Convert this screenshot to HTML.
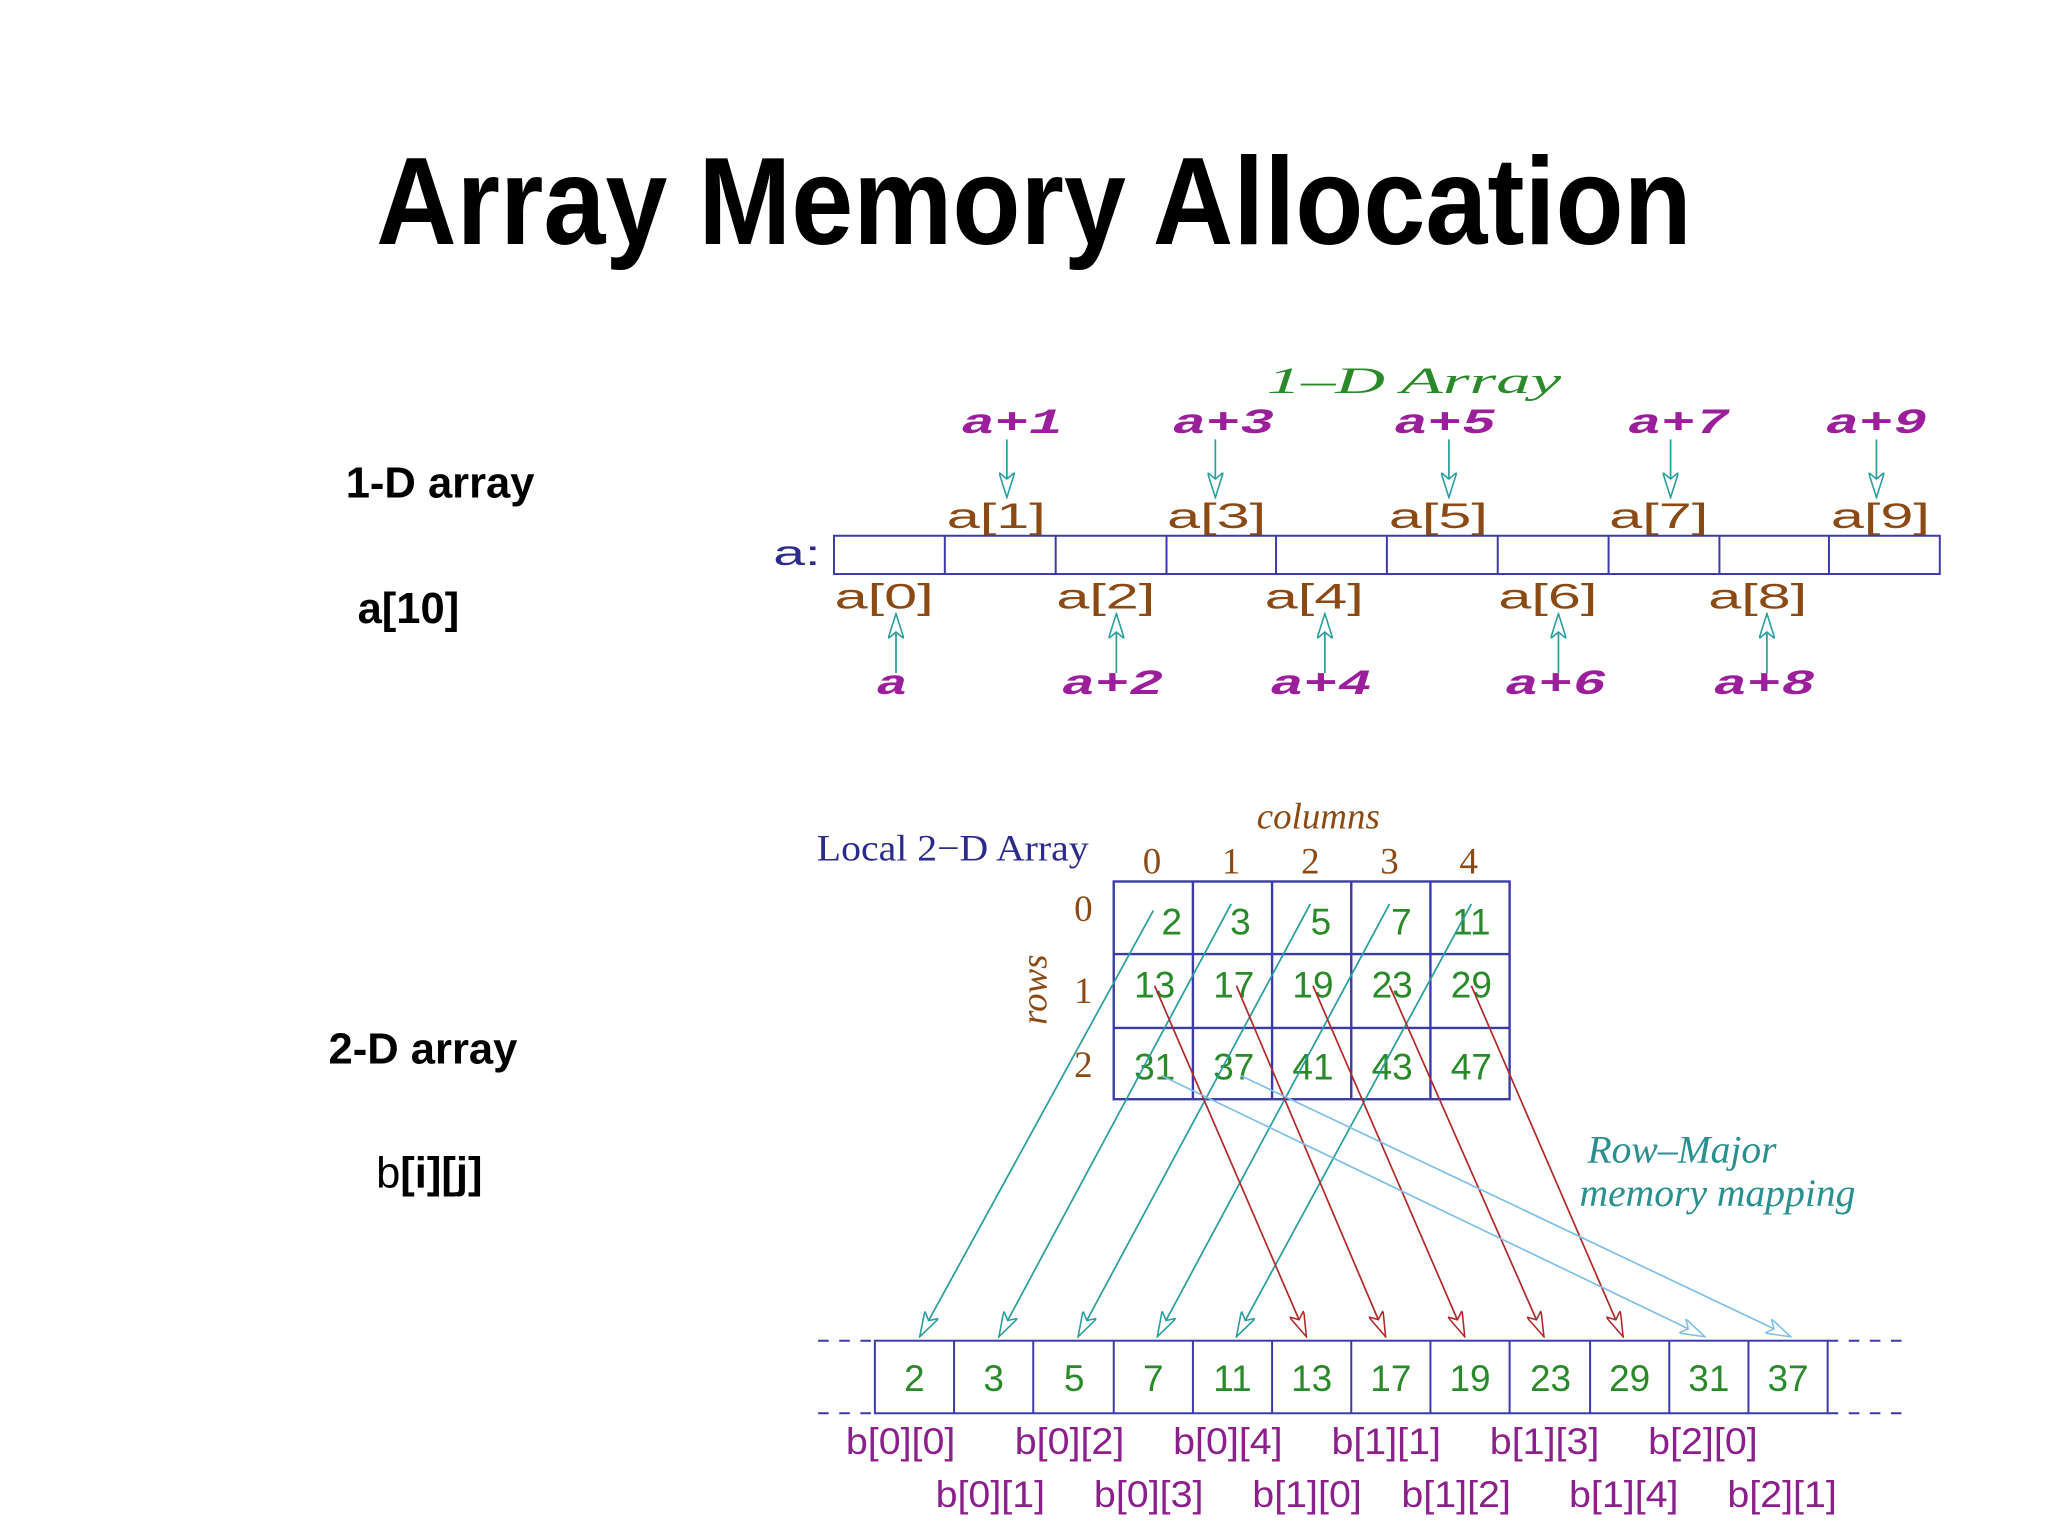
<!DOCTYPE html>
<html><head><meta charset="utf-8"><style>
html,body{margin:0;padding:0;background:#fff;}
svg{display:block}
</style></head><body>
<svg width="2048" height="1536" viewBox="0 0 1552 1164" xmlns="http://www.w3.org/2000/svg">
<defs>
<marker id="mt" viewBox="0 0 20 12" refX="19" refY="6" markerWidth="20" markerHeight="12" markerUnits="userSpaceOnUse" orient="auto"><path d="M0,0 L19,6 L0,12 L5,6 Z" fill="#fff" stroke="#2a9d9d" stroke-width="1.2"/></marker>
<marker id="mr" viewBox="0 0 20 12" refX="19" refY="6" markerWidth="20" markerHeight="12" markerUnits="userSpaceOnUse" orient="auto"><path d="M0,0 L19,6 L0,12 L5,6 Z" fill="#fff" stroke="#b02a2a" stroke-width="1.2"/></marker>
<marker id="mb" viewBox="0 0 20 12" refX="19" refY="6" markerWidth="20" markerHeight="12" markerUnits="userSpaceOnUse" orient="auto"><path d="M0,0 L19,6 L0,12 L5,6 Z" fill="#fff" stroke="#7fbfe8" stroke-width="1.2"/></marker>
</defs>
<text x="285" y="185" font-family="Liberation Sans, sans-serif" font-weight="bold" font-size="94" textLength="997" lengthAdjust="spacingAndGlyphs">Array Memory Allocation</text>
<g font-family="Liberation Sans, sans-serif" font-size="33" fill="#000">
<text x="262" y="377" font-weight="bold">1-D array</text>
<text x="271" y="472" font-weight="bold">a[10]</text>
<text x="249" y="806" font-weight="bold">2-D array</text>
<text x="285" y="900">b<tspan font-weight="bold">[i][j]</tspan></text>
</g>
<!-- 1-D -->
<text x="960" y="298" font-family="Liberation Serif, serif" font-style="italic" font-size="28" fill="#2a8a2a" textLength="223" lengthAdjust="spacingAndGlyphs">1–D Array</text>
<g font-family="Liberation Mono, monospace" font-style="italic" font-weight="bold" font-size="27" fill="#9b1f9b" text-anchor="middle">
<text x="767" y="328" textLength="77" lengthAdjust="spacingAndGlyphs">a+1</text><text x="927" y="328" textLength="77" lengthAdjust="spacingAndGlyphs">a+3</text><text x="1095" y="328" textLength="77" lengthAdjust="spacingAndGlyphs">a+5</text><text x="1272" y="328" textLength="77" lengthAdjust="spacingAndGlyphs">a+7</text><text x="1422" y="328" textLength="77" lengthAdjust="spacingAndGlyphs">a+9</text>
<text x="676" y="526" textLength="24" lengthAdjust="spacingAndGlyphs">a</text><text x="843" y="526" textLength="77" lengthAdjust="spacingAndGlyphs">a+2</text><text x="1001" y="526" textLength="77" lengthAdjust="spacingAndGlyphs">a+4</text><text x="1179" y="526" textLength="77" lengthAdjust="spacingAndGlyphs">a+6</text><text x="1337" y="526" textLength="77" lengthAdjust="spacingAndGlyphs">a+8</text>
</g>
<g stroke="#2a9d9d" stroke-width="1.3">
<line x1="763" y1="333" x2="763" y2="377" marker-end="url(#mt)"/>
<line x1="921" y1="333" x2="921" y2="377" marker-end="url(#mt)"/>
<line x1="1098" y1="333" x2="1098" y2="377" marker-end="url(#mt)"/>
<line x1="1266" y1="333" x2="1266" y2="377" marker-end="url(#mt)"/>
<line x1="1422" y1="333" x2="1422" y2="377" marker-end="url(#mt)"/>
<line x1="679" y1="510" x2="679" y2="465" marker-end="url(#mt)"/>
<line x1="846" y1="510" x2="846" y2="465" marker-end="url(#mt)"/>
<line x1="1004" y1="510" x2="1004" y2="465" marker-end="url(#mt)"/>
<line x1="1181" y1="510" x2="1181" y2="465" marker-end="url(#mt)"/>
<line x1="1339" y1="510" x2="1339" y2="465" marker-end="url(#mt)"/>
</g>
<g font-family="Liberation Sans, sans-serif" font-size="27" fill="#8b4a14" text-anchor="middle">
<text x="755" y="400" textLength="75" lengthAdjust="spacingAndGlyphs">a[1]</text><text x="922" y="400" textLength="75" lengthAdjust="spacingAndGlyphs">a[3]</text><text x="1090" y="400" textLength="75" lengthAdjust="spacingAndGlyphs">a[5]</text><text x="1257" y="400" textLength="75" lengthAdjust="spacingAndGlyphs">a[7]</text><text x="1425" y="400" textLength="75" lengthAdjust="spacingAndGlyphs">a[9]</text>
<text x="670" y="461" textLength="75" lengthAdjust="spacingAndGlyphs">a[0]</text><text x="838" y="461" textLength="75" lengthAdjust="spacingAndGlyphs">a[2]</text><text x="996" y="461" textLength="75" lengthAdjust="spacingAndGlyphs">a[4]</text><text x="1173" y="461" textLength="75" lengthAdjust="spacingAndGlyphs">a[6]</text><text x="1332" y="461" textLength="75" lengthAdjust="spacingAndGlyphs">a[8]</text>
</g>
<text x="586" y="428" font-family="Liberation Sans, sans-serif" font-size="27" fill="#2b2b8b" textLength="36" lengthAdjust="spacingAndGlyphs">a:</text>
<g fill="none" stroke="#3a3aa8" stroke-width="1.5">
<rect x="632" y="406" width="838" height="29"/>
<path d="M716,406V435M800,406V435M884,406V435M967,406V435M1051,406V435M1135,406V435M1219,406V435M1303,406V435M1386,406V435"/>
</g>
<!-- 2-D -->
<text x="619" y="652" font-family="Liberation Serif, serif" font-size="28" fill="#2b2b8b" textLength="206" lengthAdjust="spacingAndGlyphs">Local 2−D Array</text>
<text x="999" y="628" font-family="Liberation Serif, serif" font-style="italic" font-size="28" fill="#8b4a14" text-anchor="middle">columns</text>
<g font-family="Liberation Serif, serif" font-size="28" fill="#8b4a14" text-anchor="middle">
<text x="873" y="662">0</text><text x="933" y="662">1</text><text x="993" y="662">2</text><text x="1053" y="662">3</text><text x="1113" y="662">4</text>
<text x="821" y="698">0</text><text x="821" y="760">1</text><text x="821" y="816">2</text>
</g>
<text transform="translate(793,750) rotate(-90)" font-family="Liberation Serif, serif" font-style="italic" font-size="28" fill="#8b4a14" text-anchor="middle">rows</text>
<g fill="none" stroke="#3a3aa8" stroke-width="1.8">
<rect x="844" y="668" width="300" height="165"/>
<path d="M904,668V833M964,668V833M1024,668V833M1084,668V833M844,723H1144M844,779H1144"/>
</g>
<g font-family="Liberation Sans, sans-serif" font-size="28" fill="#2a8a2a" text-anchor="middle">
<text x="888" y="708">2</text><text x="940" y="708">3</text><text x="1001" y="708">5</text><text x="1062" y="708">7</text><text x="1115" y="708">11</text>
<text x="875" y="756">13</text><text x="935" y="756">17</text><text x="995" y="756">19</text><text x="1055" y="756">23</text><text x="1115" y="756">29</text>
<text x="875" y="818">31</text><text x="935" y="818">37</text><text x="995" y="818">41</text><text x="1055" y="818">43</text><text x="1115" y="818">47</text>
</g>
<!-- bottom array -->
<g stroke="#3a3aa8" stroke-width="1.5" fill="none">
<rect x="663" y="1016" width="722" height="55"/>
<path d="M723,1016V1071M783,1016V1071M844,1016V1071M904,1016V1071M964,1016V1071M1024,1016V1071M1084,1016V1071M1144,1016V1071M1205,1016V1071M1265,1016V1071M1325,1016V1071"/>
<path d="M620,1016H663M620,1071H663M1385,1016H1445M1385,1071H1445" stroke-dasharray="8,8"/>
</g>
<g font-family="Liberation Sans, sans-serif" font-size="28" fill="#2a8a2a" text-anchor="middle">
<text x="693" y="1054">2</text><text x="753" y="1054">3</text><text x="814" y="1054">5</text><text x="874" y="1054">7</text><text x="934" y="1054">11</text><text x="994" y="1054">13</text><text x="1054" y="1054">17</text><text x="1114" y="1054">19</text><text x="1175" y="1054">23</text><text x="1235" y="1054">29</text><text x="1295" y="1054">31</text><text x="1355" y="1054">37</text>
</g>
<g font-family="Liberation Sans, sans-serif" font-size="28" fill="#8b1f8b">
<text x="641" y="1102" textLength="83" lengthAdjust="spacingAndGlyphs">b[0][0]</text><text x="769" y="1102" textLength="83" lengthAdjust="spacingAndGlyphs">b[0][2]</text><text x="889" y="1102" textLength="83" lengthAdjust="spacingAndGlyphs">b[0][4]</text><text x="1009" y="1102" textLength="83" lengthAdjust="spacingAndGlyphs">b[1][1]</text><text x="1129" y="1102" textLength="83" lengthAdjust="spacingAndGlyphs">b[1][3]</text><text x="1249" y="1102" textLength="83" lengthAdjust="spacingAndGlyphs">b[2][0]</text>
<text x="709" y="1142" textLength="83" lengthAdjust="spacingAndGlyphs">b[0][1]</text><text x="829" y="1142" textLength="83" lengthAdjust="spacingAndGlyphs">b[0][3]</text><text x="949" y="1142" textLength="83" lengthAdjust="spacingAndGlyphs">b[1][0]</text><text x="1062" y="1142" textLength="83" lengthAdjust="spacingAndGlyphs">b[1][2]</text><text x="1189" y="1142" textLength="83" lengthAdjust="spacingAndGlyphs">b[1][4]</text><text x="1309" y="1142" textLength="83" lengthAdjust="spacingAndGlyphs">b[2][1]</text>
</g>
<!-- mapping arrows -->
<g stroke="#2a9d9d" stroke-width="1.3">
<line x1="874" y1="690" x2="697" y2="1013" marker-end="url(#mt)"/>
<line x1="933" y1="685" x2="757" y2="1013" marker-end="url(#mt)"/>
<line x1="993" y1="685" x2="817" y2="1013" marker-end="url(#mt)"/>
<line x1="1053" y1="685" x2="877" y2="1013" marker-end="url(#mt)"/>
<line x1="1115" y1="685" x2="937" y2="1013" marker-end="url(#mt)"/>
</g>
<g stroke="#b02a2a" stroke-width="1.3">
<line x1="875" y1="747" x2="990" y2="1013" marker-end="url(#mr)"/>
<line x1="937" y1="747" x2="1050" y2="1013" marker-end="url(#mr)"/>
<line x1="995" y1="747" x2="1110" y2="1013" marker-end="url(#mr)"/>
<line x1="1053" y1="747" x2="1170" y2="1013" marker-end="url(#mr)"/>
<line x1="1115" y1="747" x2="1230" y2="1013" marker-end="url(#mr)"/>
</g>
<g stroke="#7fbfe8" stroke-width="1.3">
<line x1="880" y1="815" x2="1292" y2="1013" marker-end="url(#mb)"/>
<line x1="940" y1="815" x2="1357" y2="1013" marker-end="url(#mb)"/>
</g>
<g font-family="Liberation Serif, serif" font-style="italic" font-size="30" fill="#2a8f8f">
<text x="1203" y="881">Row–Major</text>
<text x="1197" y="914">memory mapping</text>
</g>
</svg>
</body></html>
